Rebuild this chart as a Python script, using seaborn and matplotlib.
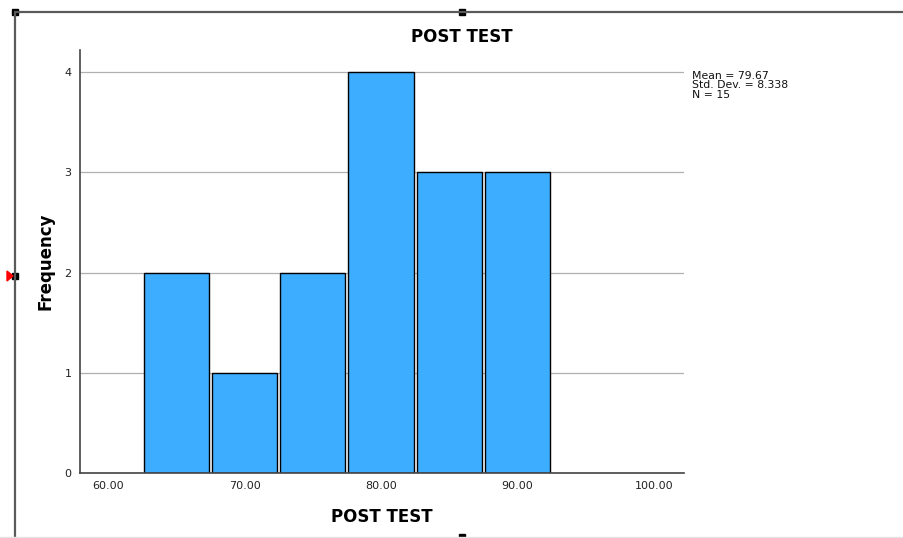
"""
SPSS-style histogram of POST TEST scores
"""

import matplotlib
matplotlib.use("Agg")
import matplotlib.pyplot as plt
import seaborn as sns
import pandas as pd
from matplotlib.lines import Line2D
from matplotlib.patches import Rectangle, Polygon

# Bin layout and counts
bin_edges = [62.5, 67.5, 72.5, 77.5, 82.5, 87.5, 92.5]
bin_centers = [65, 70, 75, 80, 85, 90]
frequencies = [2, 1, 2, 4, 3, 3]
x_ticks = [60, 70, 80, 90, 100]
y_ticks = [0, 1, 2, 3, 4]
stats_lines = ["Mean = 79.67", "Std. Dev. = 8.338", "N = 15"]

df = pd.DataFrame({"score": bin_centers, "count": frequencies})

sns.set_style("white")
plt.rcParams["font.family"] = ["DejaVu Sans"]
plt.rcParams["text.color"] = "black"
plt.rcParams["axes.labelcolor"] = "black"

W, H = 904, 538
fig = plt.figure(figsize=(W / 100, H / 100), dpi=100)
ax = fig.add_axes([80 / W, 1 - 473 / H, (684 - 80) / W, (473 - 50) / H])

sns.histplot(
    data=df, x="score", weights="count", bins=bin_edges,
    color="#3DAEFF", alpha=1, edgecolor="black", linewidth=1.0,
    shrink=0.955, ax=ax,
)

ax.set_xlim(57.95, 102.2)
ax.set_ylim(0, 4.22)
ax.set_xticks(x_ticks)
ax.set_xticklabels([f"{v:.2f}" for v in x_ticks], fontsize=8, color="#222222")
ax.set_yticks(y_ticks)
ax.set_yticklabels([str(v) for v in y_ticks], fontsize=8, color="#222222")
ax.tick_params(length=0, pad=6)
ax.yaxis.grid(True, color="#b0b0b0", linewidth=0.9)
ax.set_axisbelow(True)
for s in ["top", "right"]:
    ax.spines[s].set_visible(False)
for s in ["left", "bottom"]:
    ax.spines[s].set_color("#444444")
    ax.spines[s].set_linewidth(1.2)

ax.set_xlabel("POST TEST", fontsize=12, fontweight="bold", labelpad=12)
ax.set_ylabel("Frequency", fontsize=12, fontweight="bold", labelpad=7)

fig.text(462 / W, 1 - 37 / H, "POST TEST", ha="center", va="center",
         fontsize=12, fontweight="bold")
fig.text(692 / W, 1 - 71 / H, "\n".join(stats_lines), ha="left", va="top",
         fontsize=7.8, linespacing=0.92, color="#111111")

# selection frame drawn around the chart
fc = "#5a5a5a"
fig.add_artist(Line2D([15 / W, 1], [1 - 12 / H] * 2, color=fc, lw=1.6))
fig.add_artist(Line2D([15 / W] * 2, [1 - 12 / H, 0], color=fc, lw=1.6))
fig.add_artist(Line2D([0, 1], [1 - 537 / H] * 2, color="#e4e4e4", lw=1))
for hx, hy in [(15, 12), (462, 12), (15, 276), (462, 537)]:
    fig.add_artist(Rectangle(((hx - 3) / W, 1 - (hy + 3) / H), 6 / W, 6 / H,
                             color="black", transform=fig.transFigure))
fig.add_artist(Polygon([[7 / W, 1 - 271 / H], [7 / W, 1 - 281 / H], [13 / W, 1 - 276 / H]],
                       closed=True, color="red", transform=fig.transFigure))

fig.savefig("out.png", dpi=100)
